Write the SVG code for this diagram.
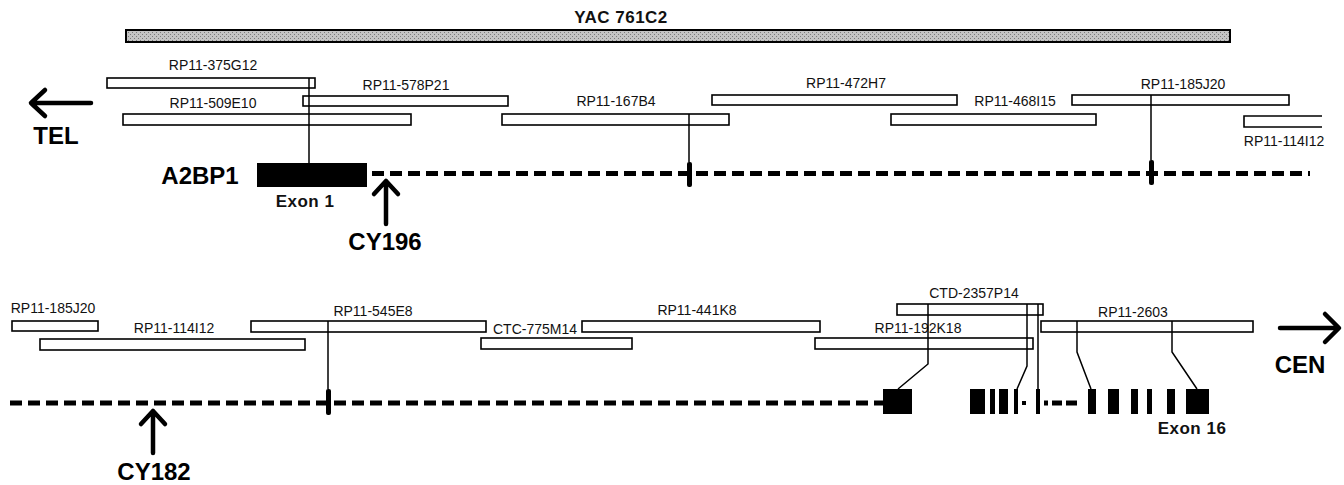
<svg xmlns="http://www.w3.org/2000/svg" width="1344" height="485" viewBox="0 0 1344 485">
<defs>
<pattern id="yacfill" width="4" height="4" patternUnits="userSpaceOnUse">
<rect width="4" height="4" fill="#c4c4c4"/>
<rect x="0" y="0" width="1" height="1" fill="#7a7a7a"/>
<rect x="2" y="2" width="1" height="1" fill="#7a7a7a"/>
</pattern>
</defs>
<style>
.clone{fill:#fff;stroke:#000;stroke-width:1.6}
.lbl{font-family:"Liberation Sans",Arial,sans-serif;font-size:14px;fill:#111;text-anchor:middle}
.big{font-family:"Liberation Sans",Arial,sans-serif;font-size:24px;font-weight:bold;fill:#000;text-anchor:middle}
.exl{font-family:"Liberation Sans",Arial,sans-serif;font-size:17px;font-weight:bold;letter-spacing:0.5px;fill:#111;text-anchor:middle}
.gene{stroke:#000;stroke-width:5;stroke-dasharray:12 6;fill:none}
.conn{stroke:#000;stroke-width:1.5;fill:none}
.arr{stroke:#000;stroke-width:4.5;fill:none;stroke-linecap:round;stroke-linejoin:round}
.ex{fill:#000}
</style>
<rect width="1344" height="485" fill="#fff"/>

<g id="yac">
<rect x="126" y="30" width="1104" height="12" fill="url(#yacfill)" stroke="#000" stroke-width="2"/>
<text class="lbl" x="621" y="23" style="font-weight:bold;font-size:17px;letter-spacing:0.5px">YAC 761C2</text>
</g>

<g id="tel">
<path class="arr" d="M91,103 H32 M45,90 L31,103 L45,116"/>
<text class="big" x="56" y="144">TEL</text>
</g>

<g id="cen">
<path class="arr" d="M1280,328 H1338 M1325,314 L1339,328 L1325,342"/>
<text class="big" x="1300" y="373">CEN</text>
</g>

<!-- top row clones -->
<g id="RP11-375G12"><rect class="clone" x="107" y="78" width="208" height="10"/><text class="lbl" x="213" y="70">RP11-375G12</text></g>
<g id="RP11-509E10"><rect class="clone" x="123" y="114" width="288" height="11"/><text class="lbl" x="213" y="108">RP11-509E10</text></g>
<g id="RP11-578P21"><rect class="clone" x="303" y="96" width="205" height="10"/><text class="lbl" x="406" y="90">RP11-578P21</text></g>
<g id="RP11-167B4"><rect class="clone" x="502" y="114" width="227" height="11"/><text class="lbl" x="616" y="106">RP11-167B4</text></g>
<g id="RP11-472H7"><rect class="clone" x="712" y="95" width="245" height="10"/><text class="lbl" x="846" y="88">RP11-472H7</text></g>
<g id="RP11-468I15"><rect class="clone" x="891" y="114" width="205" height="11"/><text class="lbl" x="1015" y="106">RP11-468I15</text></g>
<g id="RP11-185J20-top"><rect class="clone" x="1072" y="95" width="217" height="10"/><text class="lbl" x="1183" y="89">RP11-185J20</text></g>
<g id="RP11-114I12-top"><path d="M1322,116 H1244 V127 H1322" fill="#fff" stroke="#000" stroke-width="1.6"/><text class="lbl" x="1284" y="146">RP11-114I12</text></g>

<!-- top gene -->
<g id="gene-top">
<path class="gene" d="M372,173.5 H1310"/>
<rect class="ex" x="257" y="163" width="110" height="24"/>
<rect class="ex" x="687" y="162" width="5" height="25" rx="2"/>
<rect class="ex" x="1149" y="160" width="5" height="25" rx="2"/>
<text class="big" x="200" y="184">A2BP1</text>
<text class="exl" x="305" y="207">Exon 1</text>
</g>

<g id="cy196">
<path class="arr" d="M386,224 V181 M374,194 L386,181 L398,194"/>
<text class="big" x="385" y="250">CY196</text>
</g>

<!-- bottom row clones -->
<g id="RP11-185J20-bot"><rect class="clone" x="12" y="321" width="86" height="10"/><text class="lbl" x="53" y="313">RP11-185J20</text></g>
<g id="RP11-114I12-bot"><rect class="clone" x="40" y="339" width="265" height="11"/><text class="lbl" x="174" y="333">RP11-114I12</text></g>
<g id="RP11-545E8"><rect class="clone" x="251" y="321" width="235" height="11"/><text class="lbl" x="373" y="316">RP11-545E8</text></g>
<g id="CTC-775M14"><rect class="clone" x="481" y="338" width="151" height="11"/><text class="lbl" x="535" y="334">CTC-775M14</text></g>
<g id="RP11-441K8"><rect class="clone" x="582" y="321" width="238" height="11"/><text class="lbl" x="697" y="315">RP11-441K8</text></g>
<g id="RP11-192K18"><rect class="clone" x="815" y="338" width="218" height="11"/><text class="lbl" x="918" y="333">RP11-192K18</text></g>
<g id="CTD-2357P14"><rect class="clone" x="897" y="304" width="146" height="11"/><text class="lbl" x="974" y="298">CTD-2357P14</text></g>
<g id="RP11-2603"><rect class="clone" x="1041" y="321" width="212" height="11"/><text class="lbl" x="1133" y="317">RP11-2603</text></g>

<!-- bottom gene -->
<g id="gene-bottom">
<path class="gene" d="M10,403 H883"/>
<rect class="ex" x="326" y="389" width="5" height="26" rx="2"/>
<rect class="ex" x="883" y="389" width="29" height="25"/>
<rect class="ex" x="970" y="389" width="15" height="25"/>
<rect class="ex" x="990" y="389" width="5" height="25"/>
<rect class="ex" x="999" y="389" width="9" height="25"/>
<rect class="ex" x="1014" y="389" width="4" height="25"/>
<rect class="ex" x="1022" y="401" width="4" height="4"/>
<rect class="ex" x="1036" y="389" width="4" height="25"/>
<rect class="ex" x="1044" y="400.5" width="4" height="5"/>
<rect class="ex" x="1052" y="400.5" width="10" height="5"/>
<rect class="ex" x="1066" y="400.5" width="11" height="5"/>
<rect class="ex" x="1088" y="389" width="8" height="25"/>
<rect class="ex" x="1108" y="389" width="11" height="25"/>
<rect class="ex" x="1131" y="389" width="7" height="25"/>
<rect class="ex" x="1147" y="389" width="5" height="25"/>
<rect class="ex" x="1167" y="389" width="8" height="25"/>
<rect class="ex" x="1186" y="389" width="23" height="25"/>
<text class="exl" x="1192" y="434">Exon 16</text>
</g>

<g id="cy182">
<path class="arr" d="M153,453 V411 M141,424 L153,411 L165,424"/>
<text class="big" x="154" y="480">CY182</text>
</g>

<g id="connectors">
<path class="conn" d="M309,78 V163"/>
<path class="conn" d="M689,114 V162"/>
<path class="conn" d="M1151,95 V160"/>
<path class="conn" d="M328,321 V389"/>
<path class="conn" d="M928,304 V364 L898,389"/>
<path class="conn" d="M1027,304 V366 L1017,389"/>
<path class="conn" d="M1038,304 V389"/>
<path class="conn" d="M1077,321 V352 L1091,389"/>
<path class="conn" d="M1172,321 V352 L1197,389"/>
</g>
</svg>
